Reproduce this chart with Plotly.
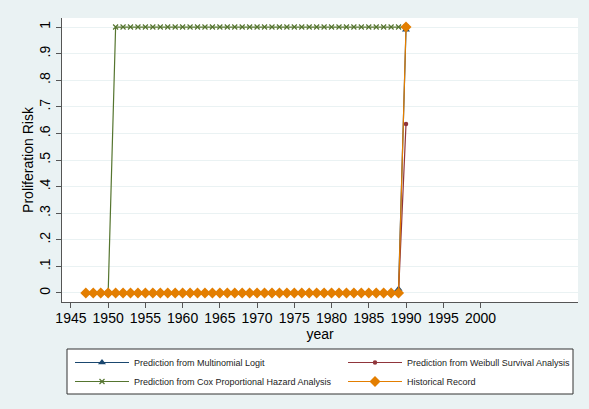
import plotly.graph_objects as go

logit_years = list(range(1947, 1991))
logit_vals = [0.0] * 42 + [0.015, 0.99]
weibull_years = list(range(1947, 1991))
weibull_vals = [0.0] * 42 + [0.0, 0.635]
cox_years = list(range(1950, 1991))
cox_vals = [0.0] + [1.0] * 40
hist_years = list(range(1947, 1991))
hist_vals = [0.0] * 43 + [1.0]

x_ticks = [1945, 1950, 1955, 1960, 1965, 1970, 1975, 1980, 1985, 1990, 1995, 2000]
y_ticks = [0, 0.1, 0.2, 0.3, 0.4, 0.5, 0.6, 0.7, 0.8, 0.9, 1.0]
y_labels = ["0", ".1", ".2", ".3", ".4", ".5", ".6", ".7", ".8", ".9", "1"]

NAVY = "#1a476f"
MAROON = "#90353b"
GREEN = "#55752f"
ORANGE = "#e37e00"
BG = "#eaf2f3"
FONT = "Liberation Sans, Arial, sans-serif"

fig = go.Figure()
fig.add_trace(go.Scatter(x=logit_years, y=logit_vals, mode="lines+markers",
                         name="Prediction from Multinomial Logit", legend="legend",
                         line=dict(color=NAVY, width=1.2),
                         marker=dict(symbol="triangle-up", size=7, color=NAVY)))
fig.add_trace(go.Scatter(x=weibull_years, y=weibull_vals, mode="lines+markers",
                         name="Prediction from Weibull Survival Analysis", legend="legend2",
                         line=dict(color=MAROON, width=1.2),
                         marker=dict(symbol="circle", size=4.5, color=MAROON)))
fig.add_trace(go.Scatter(x=cox_years, y=cox_vals, mode="lines+markers",
                         name="Prediction from Cox Proportional Hazard Analysis", legend="legend",
                         line=dict(color=GREEN, width=1.2),
                         marker=dict(symbol="x-thin", size=5, color=GREEN,
                                     line=dict(color=GREEN, width=1.2))))
fig.add_trace(go.Scatter(x=hist_years, y=hist_vals, mode="lines+markers",
                         name="Historical Record", legend="legend2",
                         line=dict(color=ORANGE, width=1.2),
                         marker=dict(symbol="diamond", size=8.5, color=ORANGE)))

W, H = 589, 409
ML, MR, MT, MB = 62, 11, 18, 107
PW, PH = W - ML - MR, H - MT - MB


def px_x(p):
    return (p - ML) / PW


def px_y(p):
    return (H - MB - p) / PH


legend_common = dict(orientation="v", yanchor="top", xanchor="left",
                     bgcolor="rgba(0,0,0,0)", borderwidth=0,
                     font=dict(size=9, family=FONT, color="#222222"),
                     itemwidth=54, traceorder="normal")

fig.update_layout(
    width=W, height=H,
    margin=dict(l=ML, r=MR, t=MT, b=MB, autoexpand=False),
    paper_bgcolor=BG, plot_bgcolor="white",
    font=dict(family=FONT, color="black", size=14),
    showlegend=True,
    legend=dict(x=px_x(70), y=px_y(348), **legend_common),
    legend2=dict(x=px_x(343), y=px_y(348), **legend_common),
    shapes=[dict(type="rect", xref="paper", yref="paper",
                 x0=px_x(67), x1=px_x(573), y0=px_y(394), y1=px_y(349),
                 fillcolor="white", line=dict(color="#333333", width=1), layer="below")],
)
fig.update_xaxes(range=[1943.8, 2013.1], tickmode="array", tickvals=x_ticks,
                 ticks="outside", ticklen=5, tickcolor="#555555",
                 showline=True, linecolor="#555555", linewidth=1,
                 showgrid=False, zeroline=False, ticklabelstandoff=-2,
                 title=dict(text="year", font=dict(size=14), standoff=0),
                 tickfont=dict(size=14))
fig.update_yaxes(range=[-0.034, 1.034], tickmode="array", tickvals=y_ticks, ticktext=y_labels,
                 tickangle=-90,
                 ticks="outside", ticklen=5, tickcolor="#555555",
                 showline=True, linecolor="#555555", linewidth=1,
                 showgrid=True, gridcolor=BG, gridwidth=1, zeroline=False,
                 title=dict(text="Proliferation Risk", font=dict(size=14), standoff=0),
                 tickfont=dict(size=14))

fig.write_html("out.html", config={"displayModeBar": False},
               post_script="document.body.style.margin='0';document.body.style.overflow='hidden';")
